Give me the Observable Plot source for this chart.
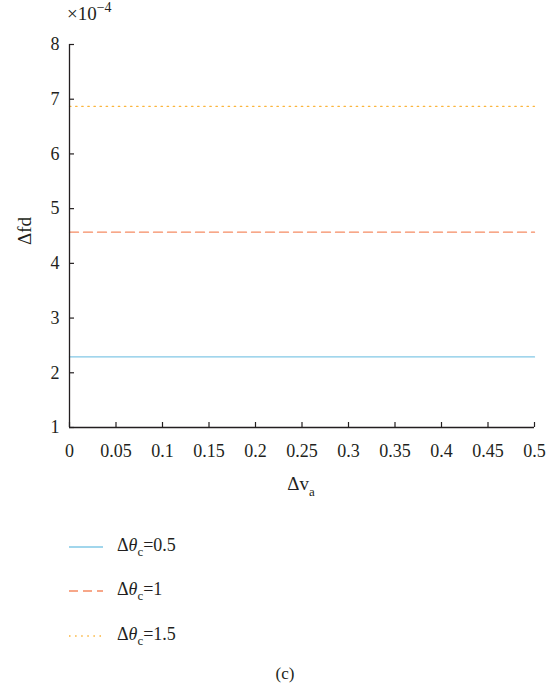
<!DOCTYPE html>
<html><head><meta charset="utf-8">
<script src="https://cdn.jsdelivr.net/npm/d3@7"></script>
<script src="https://cdn.jsdelivr.net/npm/@observablehq/plot@0.6"></script>
<style>
body{margin:0;background:#fff;font-family:"Liberation Serif",serif;color:#231f20}
#wrap{position:relative;width:546px;height:690px;overflow:hidden}
.row{position:absolute;left:69px;height:24px;display:flex;align-items:center;font-size:18px}
.row svg{margin-right:14px}
.row sub{font-size:13px;vertical-align:-5px}
#cap{position:absolute;top:664px;left:12px;width:546px;text-align:center;font-size:17px}
</style></head><body><div id="wrap"></div>
<script>
// Δv_a values (x axis)
const dva = [0, 0.05, 0.1, 0.15, 0.2, 0.25, 0.3, 0.35, 0.4, 0.45, 0.5];
// Δfd values in units of 1e-4 for each Δθ_c series
const fdTheta05 = [2.29, 2.29, 2.29, 2.29, 2.29, 2.29, 2.29, 2.29, 2.29, 2.29, 2.29];
const fdTheta10 = [4.57, 4.57, 4.57, 4.57, 4.57, 4.57, 4.57, 4.57, 4.57, 4.57, 4.57];
const fdTheta15 = [6.87, 6.87, 6.87, 6.87, 6.87, 6.87, 6.87, 6.87, 6.87, 6.87, 6.87];
const seriesNames = ["0.5", "1", "1.5"];
const colors = ["#82c8e6", "#f58b63", "#fbb53c"];
const dashes = [null, "9,5", "1.5,4.6"];
const xTicks = [0, 0.05, 0.1, 0.15, 0.2, 0.25, 0.3, 0.35, 0.4, 0.45, 0.5];
const yTicks = [1, 2, 3, 4, 5, 6, 7, 8];

const toRows = vals => dva.map((x, i) => ({x, y: vals[i]}));
const series = [fdTheta05, fdTheta10, fdTheta15].map(toRows);

const plot = Plot.plot({
  width: 546, height: 510,
  marginLeft: 69, marginRight: 12, marginTop: 44, marginBottom: 83,
  style: {fontFamily: "Liberation Serif, serif", fontSize: "18px", color: "#231f20", background: "white"},
  x: {domain: [0, 0.5]},
  y: {domain: [1, 8]},
  marks: [
    ...series.map((d, i) => Plot.line(d, {x: "x", y: "y", stroke: colors[i], strokeWidth: 1.3, strokeDasharray: dashes[i]})),
    Plot.axisX({ticks: xTicks, tickFormat: d => String(d), tickSize: -5, tickPadding: 22, fontSize: 18, label: null, stroke: "#231f20", strokeWidth: 1.2}),
    Plot.axisY({ticks: yTicks, tickFormat: d => String(d), tickSize: -5, tickPadding: 15, fontSize: 18, label: null, stroke: "#231f20", strokeWidth: 1.2}),
    Plot.ruleX([0], {y1: 1, y2: 8, stroke: "#231f20", strokeWidth: 1.3}),
    Plot.ruleY([1], {x1: 0, x2: 0.5, stroke: "#231f20", strokeWidth: 1.3})
  ]
});
const wrap = document.getElementById("wrap");
wrap.appendChild(plot);

const svg = d3.select(plot);
// exponent label
const ex = svg.append("text").attr("x", 67).attr("y", 20).attr("text-anchor", "start").attr("font-size", 19).attr("fill", "#231f20");
ex.append("tspan").text("×10");
ex.append("tspan").attr("dy", -8).attr("font-size", 14).text("−4");
// y label
svg.append("text").attr("transform", "translate(31,231) rotate(-90)").attr("text-anchor", "middle")
  .attr("font-size", 19).attr("fill", "#231f20").text("Δfd");
// x label
const xl = svg.append("text").attr("x", 301).attr("y", 490).attr("text-anchor", "middle").attr("font-size", 19).attr("fill", "#231f20");
xl.append("tspan").text("Δv");
xl.append("tspan").attr("dy", 6).attr("font-size", 13).text("a");

// legend
const legendTop = [535, 579, 624];
seriesNames.forEach((n, i) => {
  const row = document.createElement("div");
  row.className = "row";
  row.style.top = legendTop[i] + "px";
  row.innerHTML = `<svg width="34" height="24"><line x1="0" x2="34" y1="12" y2="12" stroke="${colors[i]}" stroke-width="1.3" ${dashes[i] ? `stroke-dasharray="${dashes[i]}"` : ""}/></svg><span>Δ<i>θ</i><sub>c</sub>=${n}</span>`;
  wrap.appendChild(row);
});
const cap = document.createElement("div");
cap.id = "cap"; cap.textContent = "(c)";
wrap.appendChild(cap);
</script></body></html>
